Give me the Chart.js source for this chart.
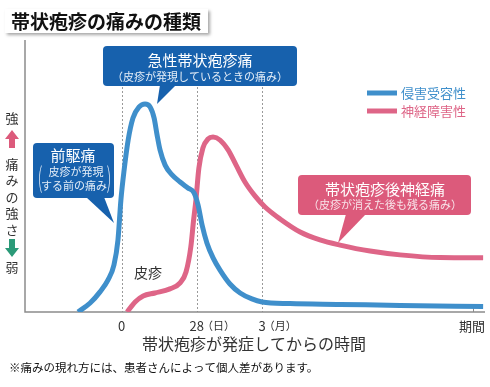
<!DOCTYPE html>
<html lang="ja">
<head>
  <meta charset="UTF-8" />
  <title>帯状疱疹の痛みの種類</title>
  <script src="https://cdn.jsdelivr.net/npm/chart.js"></script>
  <style>
    body { margin: 0; background: #fff; }
    .wrap { width: 490px; height: 387px; }
  </style>
</head>
<body>
  <div class="wrap"><canvas id="chart" width="490" height="387"></canvas></div>

  <script>
    // 横軸は「表示上の位置」(0 = 発症, 28 = 28日)
    const blueX = [-16.3, -11.8, -8.1, -5.1, -2.9, -1.4, -0.3, 0.9, 2.4, 4.2, 6.5, 8.7, 10.6, 12.1, 13.2, 14.3, 16.2, 18.8, 21.8, 24.7, 27.0, 28.5, 30.0, 31.8, 34.1, 36.7, 40.4, 44.2, 48.6, 52.4, 62.8, 81.5, 103.9, 134.9];
    const blueY = [0, 3.3, 7.4, 11.8, 17.3, 26.5, 41.2, 52.2, 63.2, 71.3, 75.4, 76.5, 75.4, 71.3, 65.1, 59.6, 54.0, 50.4, 47.8, 45.6, 43.8, 39.3, 32.0, 25.4, 19.9, 15.4, 10.3, 7.0, 4.8, 3.7, 3.1, 2.8, 2.4, 2.0];
    const pinkX = [2.0, 5.0, 8.0, 12.4, 18.0, 21.8, 24.0, 25.8, 26.8, 27.7, 28.8, 30.3, 32.2, 34.1, 36.7, 39.7, 42.7, 46.0, 49.8, 53.5, 59.1, 66.6, 74.0, 81.5, 92.7, 103.9, 118.8, 134.9];
    const pinkY = [0, 3.7, 5.9, 7.0, 8.5, 10.7, 14.7, 24.0, 33.5, 41.2, 52.9, 60.3, 63.6, 64.3, 63.2, 59.6, 54.0, 47.8, 42.6, 38.6, 34.2, 29.4, 26.5, 24.6, 22.4, 21.0, 20.0, 19.9];

    const tickValues = [0, 28, 52.4, 131];
    const tickMain = ['0', '28', '3', '期間'];
    const tickUnit = ['', '（日）', '（月）', ''];

    const seriesNames = ['侵害受容性', '神経障害性'];
    const BLUE = '#3f8fcb';
    const PINK = '#de6587';
    const FONT = '"Noto Sans CJK JP", "Noto Sans", sans-serif';

    function toPoints(xs, ys) {
      return xs.map((x, i) => ({ x: x, y: ys[i] }));
    }

    function callout(ctx, box, tip, base, color) {
      ctx.fillStyle = color;
      ctx.beginPath();
      ctx.roundRect(box.x, box.y, box.w, box.h, 4);
      ctx.fill();
      ctx.beginPath();
      ctx.moveTo(base[0], base[1]);
      ctx.lineTo(base[2], base[3]);
      ctx.lineTo(tip[0], tip[1]);
      ctx.closePath();
      ctx.fill();
    }

    const decor = {
      id: 'decor',
      beforeDatasetsDraw(chart) {
        const ctx = chart.ctx;
        const a = chart.chartArea;
        const xs = chart.scales.x;
        ctx.save();
        // 縦の点線
        ctx.strokeStyle = '#9a9a9a';
        ctx.lineWidth = 1;
        ctx.setLineDash([2, 2]);
        tickValues.slice(0, 3).forEach(v => {
          const px = Math.round(xs.getPixelForValue(v)) + 0.5;
          ctx.beginPath();
          ctx.moveTo(px, 87);
          ctx.lineTo(px, a.bottom);
          ctx.stroke();
        });
        ctx.setLineDash([]);
        // 軸
        ctx.strokeStyle = '#8c8c8c';
        ctx.lineWidth = 1.5;
        ctx.beginPath();
        ctx.moveTo(a.left, a.top);
        ctx.lineTo(a.left, a.bottom);
        ctx.lineTo(a.right, a.bottom);
        ctx.stroke();
        const pt = Math.round(xs.getPixelForValue(tickValues[3])) + 0.5;
        ctx.lineWidth = 1;
        ctx.beginPath();
        ctx.moveTo(pt, a.bottom - 4);
        ctx.lineTo(pt, a.bottom);
        ctx.stroke();
        ctx.restore();
      },
      afterDatasetsDraw(chart) {
        const ctx = chart.ctx;
        const xs = chart.scales.x;
        ctx.save();

        // タイトル
        ctx.shadowColor = 'rgba(0,0,0,0.35)';
        ctx.shadowOffsetX = 2;
        ctx.shadowOffsetY = 2;
        ctx.shadowBlur = 3;
        ctx.fillStyle = '#fff';
        ctx.fillRect(5, 9, 203, 24);
        ctx.shadowColor = 'transparent';
        ctx.fillStyle = '#111';
        ctx.font = 'bold 19px ' + FONT;
        ctx.textBaseline = 'middle';
        ctx.textAlign = 'left';
        ctx.fillText('帯状疱疹の痛みの種類', 11, 22);

        // 吹き出し
        callout(ctx, { x: 103, y: 46, w: 194, h: 40 }, [157, 104], [160, 85, 176, 85], '#1761ad');
        callout(ctx, { x: 33, y: 143, w: 81, h: 55 }, [114, 223], [86, 197, 104, 197], '#1761ad');
        callout(ctx, { x: 298, y: 175, w: 173, h: 40 }, [338, 243], [346, 214, 366, 214], '#dc5a7b');

        ctx.textAlign = 'center';
        ctx.fillStyle = '#fff';
        ctx.font = '15px ' + FONT;
        ctx.fillText('急性帯状疱疹痛', 200, 60);
        ctx.fillText('前駆痛', 73, 155);
        ctx.fillText('帯状疱疹後神経痛', 385, 189);
        ctx.fillStyle = '#e4edf7';
        ctx.font = '11px ' + FONT;
        ctx.fillText('（皮疹が発現しているときの痛み）', 200, 77);
        ctx.fillText('皮疹が発現', 76, 172);
        ctx.fillText('する前の痛み', 74, 186);
        ctx.fillStyle = '#f8e3e9';
        ctx.fillText('（皮疹が消えた後も残る痛み）', 385, 205);
        // 2行にまたがる括弧
        ctx.fillStyle = '#e4edf7';
        ctx.font = '300 24px ' + FONT;
        ctx.save();
        ctx.translate(40, 178);
        ctx.scale(0.6, 1.15);
        ctx.fillText('(', 0, 0);
        ctx.restore();
        ctx.save();
        ctx.translate(109, 178);
        ctx.scale(0.6, 1.15);
        ctx.fillText(')', 0, 0);
        ctx.restore();

        // 凡例
        [BLUE, PINK].forEach((c, i) => {
          const y = 93 + i * 18;
          ctx.strokeStyle = c;
          ctx.lineWidth = 5;
          ctx.beginPath();
          ctx.moveTo(367, y);
          ctx.lineTo(397, y);
          ctx.stroke();
          ctx.fillStyle = c;
          ctx.font = '13px ' + FONT;
          ctx.textAlign = 'left';
          ctx.fillText(seriesNames[i], 401, y);
        });

        // 縦軸の説明
        ctx.fillStyle = '#333';
        ctx.textAlign = 'center';
        ctx.font = '13px ' + FONT;
        ctx.fillText('強', 12, 118);
        ['痛', 'み', 'の', '強', 'さ'].forEach((ch, i) => ctx.fillText(ch, 12, 164 + i * 16.5));
        ctx.fillText('弱', 12, 267);
        // 矢印
        ctx.fillStyle = '#dc5a7b';
        ctx.beginPath();
        ctx.moveTo(12, 130); ctx.lineTo(19, 139); ctx.lineTo(15, 139); ctx.lineTo(15, 148);
        ctx.lineTo(9, 148); ctx.lineTo(9, 139); ctx.lineTo(5, 139); ctx.closePath();
        ctx.fill();
        ctx.fillStyle = '#2b9a78';
        ctx.beginPath();
        ctx.moveTo(12, 257); ctx.lineTo(19, 248); ctx.lineTo(15, 248); ctx.lineTo(15, 239);
        ctx.lineTo(9, 239); ctx.lineTo(9, 248); ctx.lineTo(5, 248); ctx.closePath();
        ctx.fill();

        // 皮疹
        ctx.fillStyle = '#333';
        ctx.font = '14px ' + FONT;
        ctx.fillText('皮疹', 148, 273);

        // 目盛りラベル
        ctx.font = '13px ' + FONT;
        ctx.fillStyle = '#333';
        tickValues.forEach((v, i) => {
          const px = xs.getPixelForValue(v);
          if (i === 3) {
            ctx.textAlign = 'right';
            ctx.fillText(tickMain[i], 485, 326);
            return;
          }
          ctx.textAlign = 'center';
          ctx.fillText(tickMain[i], px, 326);
          if (tickUnit[i]) {
            const w = ctx.measureText(tickMain[i]).width;
            ctx.font = '11px ' + FONT;
            ctx.textAlign = 'left';
            ctx.fillText(tickUnit[i], px + w / 2 - 2, 326);
            ctx.font = '13px ' + FONT;
          }
        });

        // 軸タイトル・注記
        ctx.textAlign = 'center';
        ctx.font = '16px ' + FONT;
        ctx.fillText('帯状疱疹が発症してからの時間', 254, 344);
        ctx.textAlign = 'left';
        ctx.font = '11.5px ' + FONT;
        ctx.fillStyle = '#111';
        ctx.fillText('※痛みの現れ方には、患者さんによって個人差があります。', 9, 368);
        ctx.restore();
      }
    };

    new Chart(document.getElementById('chart'), {
      type: 'line',
      data: {
        datasets: [
          { label: seriesNames[0], data: toPoints(blueX, blueY), borderColor: BLUE, borderWidth: 5, pointRadius: 0, tension: 0.4, cubicInterpolationMode: 'monotone' },
          { label: seriesNames[1], data: toPoints(pinkX, pinkY), borderColor: PINK, borderWidth: 5, pointRadius: 0, tension: 0.4, cubicInterpolationMode: 'monotone' }
        ]
      },
      options: {
        responsive: false,
        animation: false,
        events: [],
        layout: { padding: { left: 25, right: 5, top: 40, bottom: 75 } },
        scales: {
          x: { type: 'linear', min: -36.1, max: 135.6, display: false },
          y: { min: 0, max: 100, display: false }
        },
        plugins: { legend: { display: false }, tooltip: { enabled: false } }
      },
      plugins: [decor]
    });
  </script>
</body>
</html>
